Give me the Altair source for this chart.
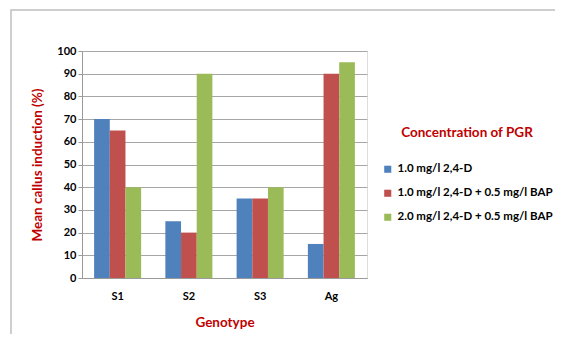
import altair as alt
import pandas as pd

genotypes = ["S1", "S2", "S3", "Ag"]
treatments = [
    "1.0 mg/l 2,4-D",
    "1.0 mg/l 2,4-D + 0.5 mg/l BAP",
    "2.0 mg/l 2,4-D + 0.5 mg/l BAP",
]
values_t1 = [70, 25, 35, 15]
values_t2 = [65, 20, 35, 90]
values_t3 = [40, 90, 40, 95]
colors = ["#4F81BD", "#C0504D", "#9BBB59"]
y_ticks = [0, 10, 20, 30, 40, 50, 60, 70, 80, 90, 100]

rows = []
for t, vals in zip(treatments, [values_t1, values_t2, values_t3]):
    for g, v in zip(genotypes, vals):
        rows.append({"Genotype": g, "Treatment": t, "Value": v})
df = pd.DataFrame(rows)

FONT = "Lato"
RED = "#C00000"

bars = alt.Chart(df).mark_bar().encode(
    x=alt.X(
        "Genotype:N",
        sort=genotypes,
        scale=alt.Scale(paddingInner=0.34, paddingOuter=0.17),
        axis=alt.Axis(
            title="Genotype",
            titleColor=RED,
            titleFont=FONT,
            titleFontSize=13.5,
            titleFontWeight="bold",
            titlePadding=14,
            labelAngle=0,
            labelFont=FONT,
            labelFontSize=11,
            labelFontWeight="bold",
            labelColor="#000000",
            labelPadding=12,
            ticks=False,
            domainColor="#9A9A9A",
            grid=False,
        ),
    ),
    xOffset=alt.XOffset("Treatment:N", sort=treatments, scale=alt.Scale(paddingInner=0, paddingOuter=0)),
    y=alt.Y(
        "Value:Q",
        scale=alt.Scale(domain=[0, 100], nice=False),
        axis=alt.Axis(
            title="Mean callus induction (%)",
            titleColor=RED,
            titleFont=FONT,
            titleFontSize=13.5,
            titleFontWeight="bold",
            titlePadding=12,
            values=y_ticks,
            labelFont=FONT,
            labelFontSize=11,
            labelFontWeight="bold",
            labelColor="#000000",
            labelPadding=2,
            tickSize=4,
            tickColor="#9A9A9A",
            domainColor="#9A9A9A",
            gridColor="#A6A6A6",
            gridWidth=1,
        ),
    ),
    color=alt.Color(
        "Treatment:N",
        sort=treatments,
        scale=alt.Scale(domain=treatments, range=colors),
        legend=alt.Legend(
            title="Concentration of PGR",
            titleColor=RED,
            titleFont=FONT,
            titleFontSize=13.5,
            titleFontWeight="bold",
            titleAnchor="middle",
            titlePadding=24,
            titleLimit=300,
            labelFont=FONT,
            labelFontSize=11.5,
            labelFontWeight="bold",
            labelColor="#000000",
            labelLimit=300,
            symbolType="square",
            symbolSize=50,
            symbolStrokeWidth=0,
            rowPadding=11,
            labelOffset=4,
            orient="none",
            legendX=300,
            legendY=75,
        ),
    ),
)

frame = alt.Chart(pd.DataFrame({"f": [0]})).mark_rect(
    fill=None, stroke="#BFBFBF", strokeWidth=1.5
).encode(
    x=alt.value(-71), x2=alt.value(600), y=alt.value(-41), y2=alt.value(400)
)

chart = alt.layer(frame, bars).properties(
    width=285,
    height=227,
    autosize=alt.AutoSizeParams(type="none"),
    padding={"left": 74, "top": 43, "right": 188, "bottom": 56},
).configure_view(stroke=None).configure(background="#FFFFFF")

chart.save("out.html", embed_options={"renderer": "svg", "actions": False})
